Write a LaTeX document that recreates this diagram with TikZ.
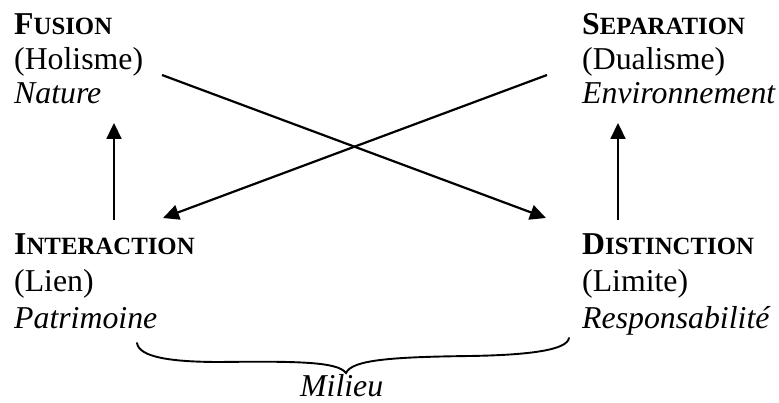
\documentclass[tikz,border=0pt]{standalone}
\usepackage{fontspec}
\setmainfont{Liberation Serif}
\usetikzlibrary{arrows.meta}
\newcommand{\capsc}[2]{{\bfseries #1{\fontsize{24.8}{25}\selectfont #2}}}
\begin{document}
\begin{tikzpicture}[x=1pt,y=-1pt,
  lbl/.style={anchor=base west,inner sep=0pt,font=\fontsize{31.8}{36}\selectfont},
  conn/.style={line width=2.2pt,-{Triangle[length=16pt,width=15pt]}},
  brc/.style={line width=1.9pt,line cap=round}]
\useasboundingbox (0,0) rectangle (779,403);
% top left
\node[lbl] (fus1) at (14,35) {\capsc{F}{USION}};
\node[lbl] (fus2) at (14,70) {(Holisme)};
\node[lbl] (fus3) at (14,104) {\itshape Nature};
% top right
\node[lbl] (sep1) at (582,35) {\capsc{S}{EPARATION}};
\node[lbl] (sep2) at (582,70) {(Dualisme)};
\node[lbl] (sep3) at (582,104) {\itshape Environnement};
% bottom left
\node[lbl] (int1) at (14,255) {\capsc{I}{NTERACTION}};
\node[lbl] (int2) at (14,291.5) {(Lien)};
\node[lbl] (int3) at (14,328) {\itshape Patrimoine};
% bottom right
\node[lbl] (dis1) at (582,255) {\capsc{D}{ISTINCTION}};
\node[lbl] (dis2) at (582,291.5) {(Limite)};
\node[lbl] (dis3) at (582,328) {\itshape Responsabilité};
% milieu
\node[lbl] (mil) at (300,396) {\itshape Milieu};
% connector ends
\coordinate (lvS) at (114,220);
\coordinate (lvE) at (114,123);
\coordinate (rvS) at (618,220);
\coordinate (rvE) at (618,123);
\coordinate (c1S) at (162,75);
\coordinate (c1E) at (546,218);
\coordinate (c2S) at (547,75);
\coordinate (c2E) at (163,218);
\draw[conn] (lvS) -- (lvE);
\draw[conn] (rvS) -- (rvE);
\draw[conn] (c1S) -- (c1E);
\draw[conn] (c2S) -- (c2E);
% brace
\coordinate (bL) at (137,343);
\coordinate (bT) at (346,373);
\coordinate (bR) at (569,338);
\draw[brc] (bL) .. controls (139,357) and (170,362) .. (220,362)
  .. controls (300,361) and (338,362) .. (bT)
  .. controls (352,360) and (390,357) .. (470,356)
  .. controls (530,355) and (567,350) .. (bR);
\end{tikzpicture}
\end{document}
